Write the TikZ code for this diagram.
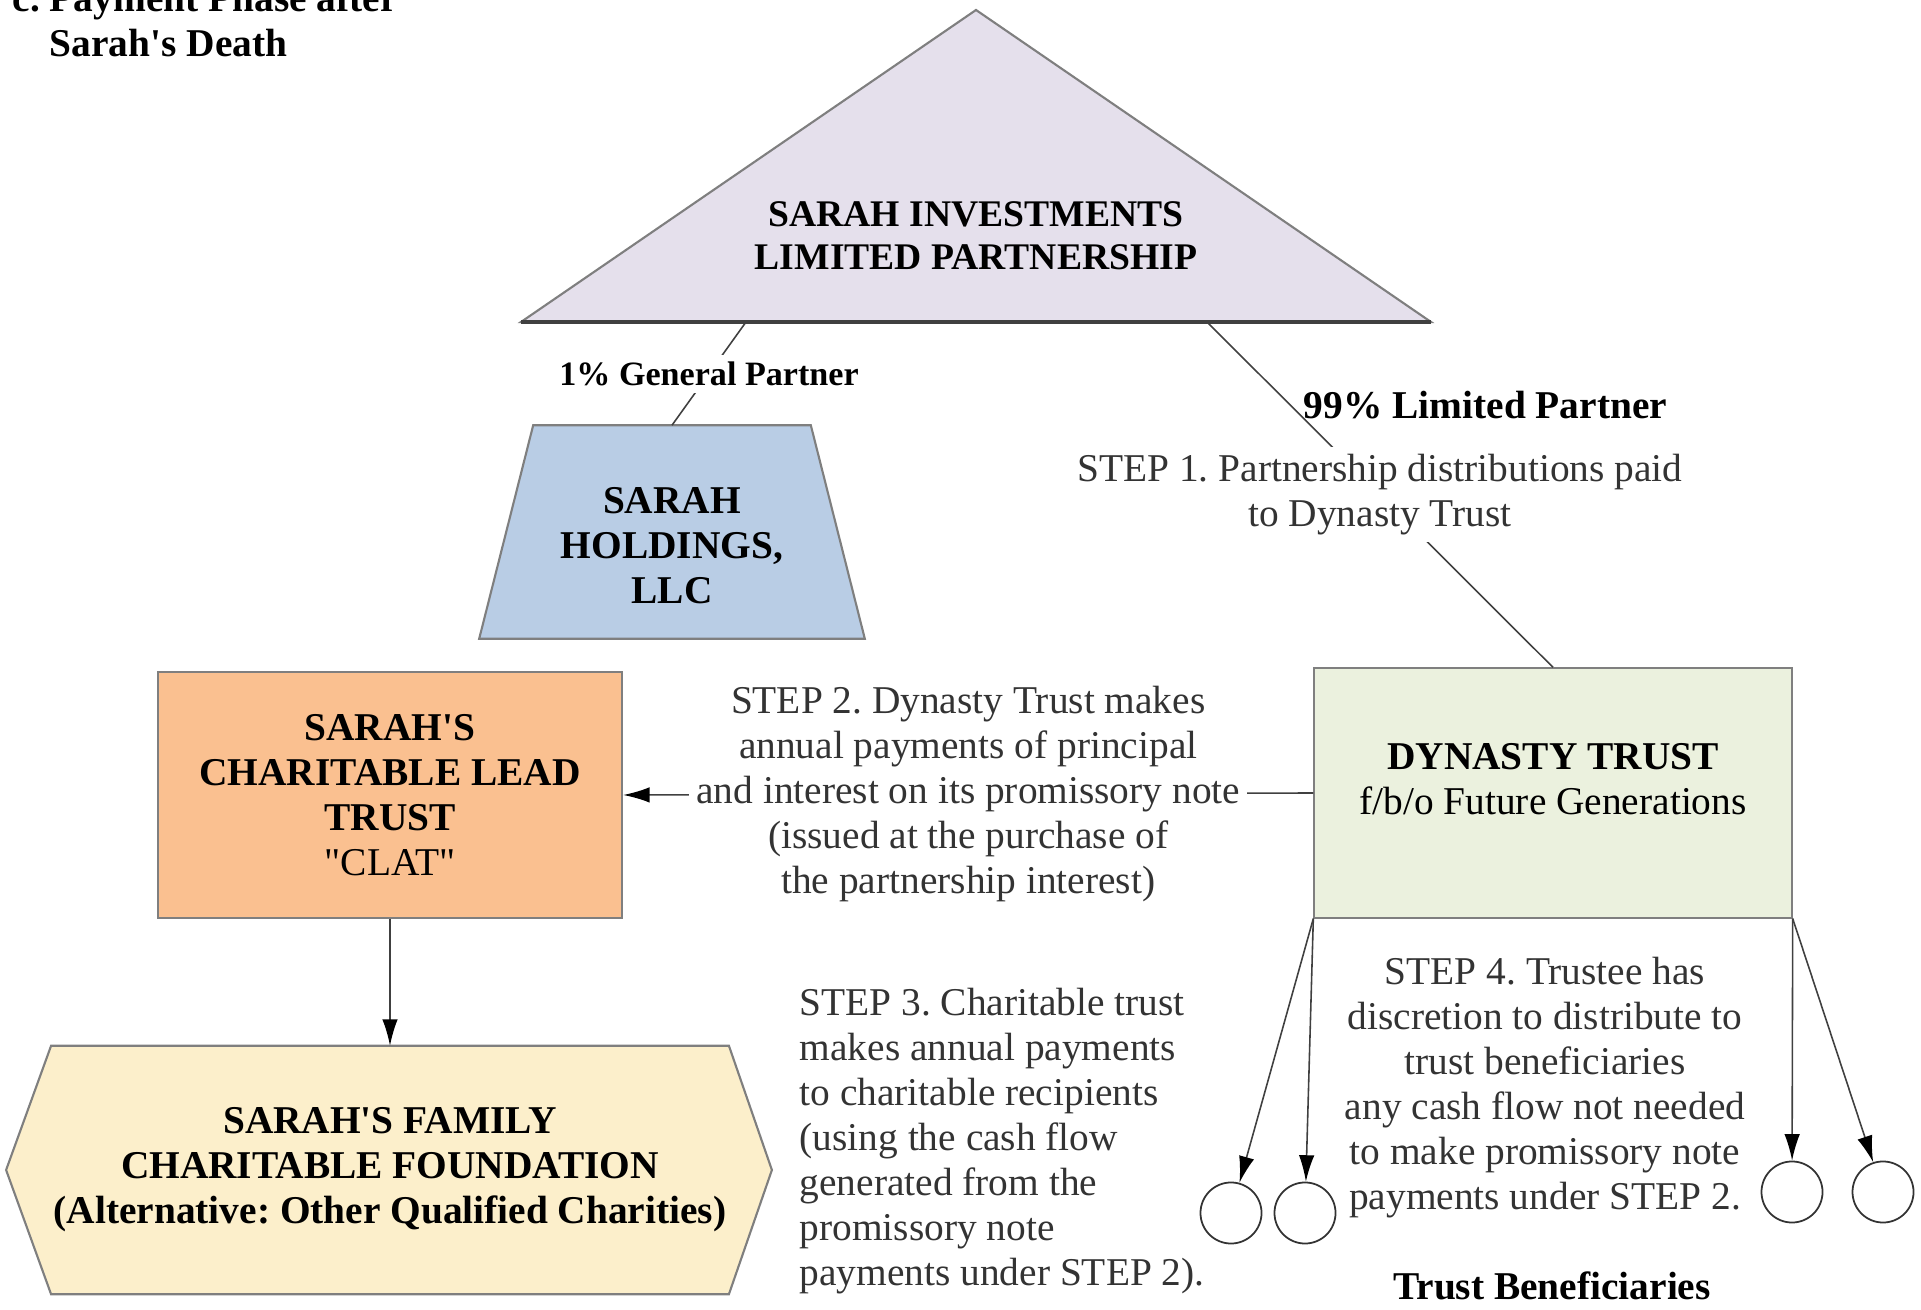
\documentclass[tikz,border=0pt]{standalone}
\usepackage{fontspec}
\setmainfont{Liberation Serif}
\usetikzlibrary{arrows.meta,positioning,calc,backgrounds}
\definecolor{lpLilac}{HTML}{E5E0EC}
\definecolor{llcBlue}{HTML}{B9CDE5}
\definecolor{clatPeach}{HTML}{FAC090}
\definecolor{dynGreen}{HTML}{EBF1DE}
\definecolor{fndCream}{HTML}{FCEFCB}
\definecolor{edgeGray}{HTML}{7F7F7F}
\frenchspacing

\begin{document}
\begin{tikzpicture}[x=0.01cm, y=-0.01cm, >={Latex[length=7.5pt,width=4.4pt,color=black]}]
\tikzstyle{txt}=[font=\fontsize{11.2}{12.8}\selectfont, align=center, inner sep=0pt]
\tikzstyle{bold}=[txt, font=\fontsize{11.2}{12.8}\selectfont\bfseries]
\tikzstyle{outline}=[draw=edgeGray, line width=.6pt]
\tikzstyle{link}=[draw=black!75, line width=.45pt]
\tikzstyle{note}=[txt, text=black!80, fill=white, inner sep=2pt]
\useasboundingbox (0,0) rectangle (1921,1310);

% title
\node[bold, align=left, anchor=base west] (title) at (12,57) {c.~Payment Phase after\\\phantom{c.}~Sarah\textquotesingle s Death};

% partnership
\coordinate (apex) at (976,10);
\coordinate (baseL) at (521,322);
\coordinate (baseR) at (1431,322);
\coordinate (gp) at (746,322);
\coordinate (lpt) at (1207,322);
\filldraw[outline, fill=lpLilac] (apex) -- (baseR) -- (baseL) -- cycle;
\draw[black!75, line width=1pt] (baseL) -- (baseR);
\node[bold, font=\fontsize{10.7}{12.2}\selectfont\bfseries] (lp) at (976,236) {SARAH INVESTMENTS\\LIMITED PARTNERSHIP};

% entities
\node[minimum width=3.84cm, minimum height=2.12cm,
  label={[bold, name=holdtext, yshift=-.14cm]center:{SARAH\\HOLDINGS,\\LLC}}] (hold) at (672,532) {};
\node[bold, outline, fill=clatPeach, minimum width=4.64cm, minimum height=2.45cm] (clat) at (390,795) {SARAH\textquotesingle S\\CHARITABLE LEAD\\TRUST\\\mdseries\textquotedbl CLAT\textquotedbl};
\node[outline, fill=dynGreen, minimum width=4.77cm, minimum height=2.49cm,
  label={[txt, name=dyntext, yshift=.14cm]center:{\textbf{DYNASTY TRUST}\\f/b/o Future Generations}}] (dyn) at (1553,793) {};
\node[bold, minimum width=6.76cm, minimum height=2.47cm] (fnd) at (390,1170) {SARAH\textquotesingle S FAMILY\\CHARITABLE FOUNDATION\\(Alternative: Other Qualified Charities)};
\begin{scope}[on background layer]
\filldraw[outline, fill=llcBlue] ($(hold.north west)+(54,0)$) -- ($(hold.north east)+(-54,0)$) -- (hold.south east) -- (hold.south west) -- cycle;
\filldraw[outline, fill=fndCream] (fnd.north west) -- (fnd.north east) -- ($(fnd.east)+(43,0)$) -- (fnd.south east) -- (fnd.south west) -- ($(fnd.west)+(-45,0)$) -- cycle;
\end{scope}

% beneficiaries
\tikzstyle{benef}=[circle, draw=black!80, line width=.5pt, minimum size=.61cm, inner sep=0pt]
\node[benef] (b1) at (1231,1213) {};
\node[benef] (b2) at (1305,1213) {};
\node[benef] (b3) at (1792,1192) {};
\node[benef] (b4) at (1883,1192) {};
\node[bold] (benefs) at (1552,1286) {Trust Beneficiaries};

% connectors
\draw[link] (gp) -- node[note, font=\fontsize{9.7}{11}\selectfont\bfseries, text=black] {1\% General Partner} (hold.north);
\draw[link] (lpt) -- node[bold, pos=.24, anchor=west, xshift=.13cm] {99\% Limited Partner}
  node[note] {STEP 1. Partnership distributions paid\\to Dynasty Trust} (dyn.north);
\draw[link, ->] (dyn.west) -- node[note] {STEP 2. Dynasty Trust makes\\annual payments of principal\\and interest on its promissory note\\(issued at the purchase of\\the partnership interest)} (clat.east);
\draw[link, ->] (clat.south) -- (fnd.north);
\foreach \b in {b1,b2}{\draw[link, ->] (dyn.south west) -- (\b);}
\foreach \b in {b3,b4}{\draw[link, ->] (dyn.south east) -- (\b);}

% steps
\node[txt, text=black!80, align=left, anchor=west] (step3) at (799,1141) {STEP 3. Charitable trust\\makes annual payments\\to charitable recipients\\(using the cash flow\\generated from the\\promissory note\\payments under STEP 2).};
\node[txt, text=black!80] (step4) at (1545,1088) {STEP 4. Trustee has\\discretion to distribute to\\trust beneficiaries\\any cash flow not needed\\to make promissory note\\payments under STEP 2.};
\end{tikzpicture}
\end{document}
